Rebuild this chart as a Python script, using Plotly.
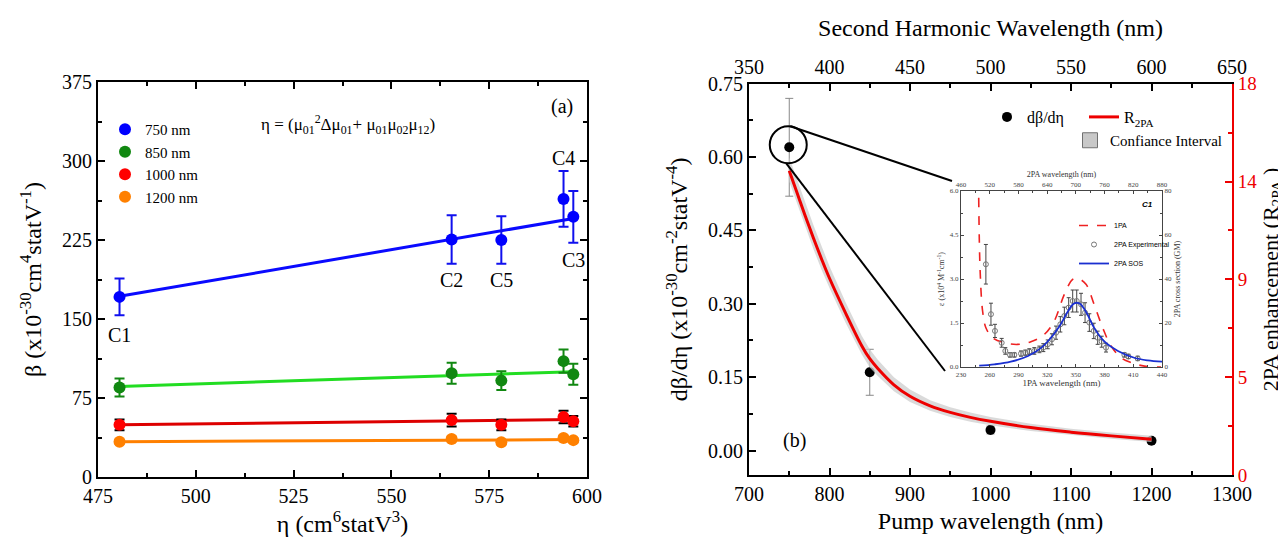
import plotly.graph_objects as go

W, H = 1286, 539
FONT = "Liberation Serif"

# ---------------- Panel (a) data ----------------
eta = [480.5, 565.4, 578.1, 594.0, 596.5]
cmpd = ["C1", "C2", "C5", "C4", "C3"]
b750 = [171, 225.5, 225, 264, 247]
e750 = [17.5, 23, 22.5, 26.5, 24.5]
b850 = [85, 98.5, 91.5, 110, 97.5]
e850 = [8.5, 10, 9, 11, 10]
b1000 = [49.5, 54, 49.5, 57, 53]
e1000 = [5, 6, 5, 6, 5]
b1200 = [33.5, 36, 33, 37, 35]
e1200 = [2, 2.5, 2, 2.5, 2]
fit_eta = [480.5, 596.5]
fit750 = [171.5, 245.5]
fit850 = [86.0, 100.0]
fit1000 = [49.5, 54.5]
fit1200 = [33.5, 35.5]
label_y = [135, 187, 187, 303, 206]

# ---------------- Panel (b) data ----------------
pump = [750, 850, 1000, 1200]
dbeta = [0.62, 0.16, 0.042, 0.020]
dbeta_err = [0.10, 0.047, 0.008, 0.005]
pump_c = [750, 760, 770, 780, 790, 800, 820, 840, 850, 860, 880, 900, 925, 950, 975, 1000, 1050, 1100, 1150, 1200]
r2pa = [14.0, 12.95, 11.9, 10.9, 9.95, 9.05, 7.45, 5.95, 5.35, 4.9, 4.15, 3.62, 3.18, 2.88, 2.65, 2.47, 2.18, 1.97, 1.8, 1.65]
ci_hi = [14.6, 13.55, 12.5, 11.5, 10.55, 9.6, 7.95, 6.4, 5.78, 5.3, 4.5, 3.93, 3.44, 3.12, 2.87, 2.67, 2.36, 2.13, 1.95, 1.8]
ci_lo = [13.5, 12.45, 11.4, 10.4, 9.45, 8.6, 7.0, 5.55, 4.95, 4.55, 3.85, 3.36, 2.95, 2.67, 2.45, 2.29, 2.02, 1.83, 1.67, 1.52]

# ---------------- Inset data ----------------
lam_1pa = [248.5, 250, 252.6, 256, 263, 275, 289, 303, 317, 327.5, 338, 346.7, 352, 360.6, 369, 378, 386.7, 397, 407.6, 421.6, 439]
eps_1pa = [5.77, 3.27, 1.9, 1.34, 1.0, 0.83, 0.77, 0.86, 1.11, 1.57, 2.48, 2.99, 3.02, 2.82, 2.14, 1.34, 0.72, 0.32, 0.15, 0.03, 0.0]
lam_sos = [249, 265, 282, 300, 314, 324, 333, 340, 347, 351, 355, 362, 369, 380, 394, 411, 425, 440]
gm_sos = [0.6, 1.2, 2.4, 5, 8.8, 13.3, 18.6, 24, 28.5, 29.2, 28.5, 24, 17.9, 11.5, 7.3, 4.2, 3.0, 2.4]
lam_exp = [256, 261.3, 265.5, 272.5, 276.3, 281.2, 285.7, 292.7, 297.2, 301.4, 306.6, 311.9, 316, 320.6, 325,
           329.3, 333.8, 338, 342.5, 346.7, 350.9, 355.4, 359.6, 364.1, 368.7, 372.8, 377, 381.5, 400.7, 404.9, 414.6]
gm_exp = [46.7, 24, 16.4, 11, 7.3, 5.5, 5.5, 6.1, 6.5, 7, 7.3, 8, 8.8, 10.3, 12.6, 15.6, 19.4, 23.2, 27, 30, 30,
          28.5, 24.7, 20.2, 16.4, 13.3, 11.5, 8.8, 5.5, 4.8, 3.9]
gm_err = [9, 5, 3, 2, 1.5, 1, 1, 1.2, 1.2, 1.3, 1.5, 1.5, 1.8, 2, 2.5, 3, 3.5, 4, 4.5, 5, 5, 5, 4.5, 4, 3.5, 3,
          2.5, 2, 1, 1, 1]

# ---------------- layout geometry (pixels -> paper) ----------------
def px(x):
    return x / W

def py(y):
    return 1 - y / H

A_X = [px(90), px(579)]
A_Y = [py(469), py(74)]
B_X = [px(741), px(1224)]
B_Y = [py(467), py(75.7)]
I_X = [px(953), px(1154)]
I_Y = [py(359), py(183)]

B_XR = [700, 1300]
B_YR = [-0.05, 0.75]

fig = go.Figure()

# ---- Panel (a) traces ----
series = [
    ("750 nm", b750, e750, fit750, "#0000ff", "#1010ee", "#0a0aff"),
    ("850 nm", b850, e850, fit850, "#118811", "#118811", "#22dd22"),
    ("1000 nm", b1000, e1000, fit1000, "#ff0000", "#000000", "#dd0000"),
    ("1200 nm", b1200, e1200, fit1200, "#ff8000", "#ff8000", "#ff8000"),
]
for name, yv, ev, fv, mc, ec, lc in series:
    fig.add_trace(go.Scatter(x=fit_eta, y=fv, mode="lines", line=dict(color=lc, width=3),
                             showlegend=False, hoverinfo="skip", xaxis="x", yaxis="y"))
for name, yv, ev, fv, mc, ec, lc in series:
    fig.add_trace(go.Scatter(x=eta, y=yv, mode="markers", name=name,
                             marker=dict(color=mc, size=12),
                             error_y=dict(type="data", array=ev, color=ec, thickness=2, width=5),
                             legend="legend", xaxis="x", yaxis="y"))

# ---- Panel (b) traces ----
fig.add_trace(go.Scatter(x=pump_c, y=ci_lo, mode="lines", line=dict(width=0, color="rgba(190,190,190,0.7)"),
                         showlegend=False, hoverinfo="skip", xaxis="x2", yaxis="y3"))
fig.add_trace(go.Scatter(x=pump_c, y=ci_hi, mode="lines", line=dict(width=0, color="rgba(190,190,190,0.7)"),
                         fill="tonexty", fillcolor="rgba(205,205,205,0.75)", showlegend=False,
                         hoverinfo="skip", xaxis="x2", yaxis="y3"))
fig.add_trace(go.Scatter(x=pump, y=dbeta, mode="markers", name="dβ/dη",
                         marker=dict(color="black", size=10),
                         error_y=dict(type="data", array=dbeta_err, color="#888888", thickness=1, width=4),
                         legend="legend2", xaxis="x2", yaxis="y2"))
fig.add_trace(go.Scatter(x=pump_c, y=r2pa, mode="lines", name="R<sub>2PA</sub>",
                         line=dict(color="#ee0000", width=3, shape="spline"),
                         legend="legend2", xaxis="x2", yaxis="y3"))
# legend swatch for the confidence band
fig.add_trace(go.Scatter(x=[None], y=[None], mode="markers", name="Confiance Interval",
                         marker=dict(symbol="square", size=15, color="#c8c8c8",
                                     line=dict(color="#707070", width=1)),
                         legend="legend3", xaxis="x2", yaxis="y3"))
# second-harmonic (top) axis carrier
fig.add_trace(go.Scatter(x=[p / 2 for p in pump], y=dbeta, mode="markers", marker=dict(opacity=0),
                         showlegend=False, hoverinfo="skip", xaxis="x3", yaxis="y2"))

# ---- Inset traces ----
fig.add_trace(go.Scatter(x=lam_1pa, y=eps_1pa, mode="lines", name="1PA",
                         line=dict(color="#ee2222", width=1.6, dash="dash", shape="spline"),
                         legend="legend4", xaxis="x4", yaxis="y4"))
fig.add_trace(go.Scatter(x=lam_exp, y=gm_exp, mode="markers", name="2PA Experimental",
                         marker=dict(symbol="circle-open", color="#777777", size=5, line=dict(width=1)),
                         error_y=dict(type="data", array=gm_err, color="#444444", thickness=1, width=2),
                         legend="legend4", xaxis="x4", yaxis="y5"))
fig.add_trace(go.Scatter(x=lam_sos, y=gm_sos, mode="lines", name="2PA SOS",
                         line=dict(color="#1a2fd0", width=1.8, shape="spline"),
                         legend="legend4", xaxis="x4", yaxis="y5"))
fig.add_trace(go.Scatter(x=[2 * l for l in lam_sos], y=gm_sos, mode="markers", marker=dict(opacity=0),
                         showlegend=False, hoverinfo="skip", xaxis="x5", yaxis="y4"))

# ---------------- axes ----------------
def ax(**kw):
    base = dict(showgrid=False, zeroline=False, showline=True, linecolor="black", linewidth=2,
                ticks="inside", ticklen=7, tickwidth=2, tickcolor="black", automargin=False,
                tickfont=dict(family=FONT, size=20, color="black"),
                title_font=dict(family=FONT, size=24, color="black"))
    base.update(kw)
    return base

inset_tick = dict(linewidth=1.2, linecolor="#444444", tickcolor="#444444", ticklen=3, tickwidth=1,
                  tickfont=dict(family=FONT, size=7, color="#444444"))

fig.update_layout(
    xaxis=ax(domain=A_X, anchor="y", range=[475, 600], tick0=475, dtick=25, mirror="ticks",
             minor=dict(ticks="inside", ticklen=4, dtick=12.5, tick0=475, tickcolor="black", tickwidth=2),
             title=dict(text="η (cm<sup>6</sup>statV<sup>3</sup>)", standoff=8)),
    yaxis=ax(domain=A_Y, anchor="x", range=[0, 375], tick0=0, dtick=75, mirror="ticks",
             minor=dict(ticks="inside", ticklen=4, dtick=37.5, tick0=0, tickcolor="black", tickwidth=2),
             title=dict(text="β (x10<sup>-30</sup>cm<sup>4</sup>statV<sup>-1</sup>)", standoff=14)),
    xaxis2=ax(domain=B_X, anchor="y2", range=B_XR, tick0=700, dtick=100,
              minor=dict(ticks="inside", ticklen=4, dtick=50, tick0=700, tickcolor="black", tickwidth=2),
              title=dict(text="Pump wavelength (nm)", standoff=8)),
    xaxis3=ax(overlaying="x2", anchor="y2", side="top", range=[350, 650], tick0=350, dtick=50,
              minor=dict(ticks="inside", ticklen=4, dtick=25, tick0=350, tickcolor="black", tickwidth=2),
              title=dict(text="Second Harmonic Wavelength (nm)", standoff=12)),
    yaxis2=ax(domain=B_Y, anchor="x2", range=B_YR, tickvals=[0, 0.15, 0.30, 0.45, 0.60, 0.75],
              tickformat=".2f",
              minor=dict(ticks="inside", ticklen=4, tickvals=[0.075, 0.225, 0.375, 0.525, 0.675],
                         tickcolor="black", tickwidth=2),
              title=dict(text="dβ/dη (x10<sup>-30</sup>cm<sup>-2</sup>statV<sup>-4</sup>)", standoff=14)),
    yaxis3=ax(overlaying="y2", anchor="x2", side="right", range=[0, 18],
              tickvals=[0, 4.5, 9, 13.5, 18], ticktext=["0", "5", "9", "14", "18"],
              linecolor="#ee0000", tickcolor="#ee0000",
              tickfont=dict(family=FONT, size=19, color="#ee0000"),
              minor=dict(ticks="inside", ticklen=4, tickvals=[2.25, 6.75, 11.25, 15.75],
                         tickcolor="#ee0000", tickwidth=2)),
    xaxis4=ax(domain=I_X, anchor="y4", range=[230, 440], tick0=230, dtick=30, **inset_tick,
              minor=dict(ticks="inside", ticklen=2, dtick=15, tick0=230, tickcolor="#444444"),
              title=dict(text="1PA wavelength (nm)", standoff=2, font=dict(family=FONT, size=9, color="#333333"))),
    xaxis5=ax(overlaying="x4", anchor="y4", side="top", range=[460, 880], tick0=460, dtick=60, **inset_tick,
              minor=dict(ticks="inside", ticklen=2, dtick=30, tick0=460, tickcolor="#444444"),
              title=dict(text="2PA wavelength (nm)", standoff=2, font=dict(family=FONT, size=8, color="#333333"))),
    yaxis4=ax(domain=I_Y, anchor="x4", range=[0, 6], tick0=0, dtick=1.5, tickformat=".1f", **inset_tick,
              minor=dict(ticks="inside", ticklen=2, dtick=0.75, tick0=0, tickcolor="#444444"),
              title=dict(text="ε (x10<sup>4</sup> M<sup>-1</sup>cm<sup>-1</sup>)", standoff=3,
                         font=dict(family=FONT, size=8, color="#333333"))),
    yaxis5=ax(overlaying="y4", anchor="x4", side="right", range=[0, 80], tick0=0, dtick=20, **inset_tick,
              minor=dict(ticks="inside", ticklen=2, dtick=10, tick0=0, tickcolor="#444444"),
              title=dict(text="2PA cross section (GM)", standoff=3,
                         font=dict(family=FONT, size=8, color="#333333"))),
)

# ---------------- legends ----------------
fig.update_layout(
    legend=dict(x=px(97), y=py(105), xanchor="left", yanchor="top", bgcolor="rgba(0,0,0,0)",
                font=dict(family=FONT, size=15, color="black"), tracegroupgap=0, itemwidth=30,
                itemsizing="constant", traceorder="normal"),
    legend2=dict(x=px(979), y=py(92), xanchor="left", yanchor="top", orientation="h",
                 entrywidth=52, entrywidthmode="pixels", bgcolor="rgba(0,0,0,0)", traceorder="normal",
                 font=dict(family=FONT, size=16, color="black")),
    legend3=dict(x=px(1062), y=py(116), xanchor="left", yanchor="top", bgcolor="rgba(0,0,0,0)",
                 traceorder="normal", font=dict(family=FONT, size=15, color="black")),
    legend4=dict(x=px(1066), y=py(203), xanchor="left", yanchor="top", bgcolor="rgba(0,0,0,0)",
                 font=dict(family="Liberation Sans", size=7, color="black"), tracegroupgap=0, itemwidth=30,
                 traceorder="normal"),
)

# ---------------- annotations ----------------
ann = []
for xv, yv, t in zip(eta, label_y, cmpd):
    ann.append(dict(x=xv, y=yv, xref="x", yref="y", text=t, showarrow=False,
                    font=dict(family=FONT, size=20, color="black")))
ann.append(dict(x=593.5, y=352, xref="x", yref="y", text="(a)", showarrow=False,
                font=dict(family=FONT, size=20, color="black")))
ann.append(dict(x=539, y=334.5, xref="x", yref="y",
                text="η = (μ<sub>01</sub><sup>2</sup>Δμ<sub>01</sub>+ μ<sub>01</sub>μ<sub>02</sub>μ<sub>12</sub>)",
                showarrow=False, font=dict(family=FONT, size=17, color="black")))
ann.append(dict(x=757, y=0.02, xref="x2", yref="y2", text="(b)", showarrow=False,
                font=dict(family=FONT, size=20, color="black")))
ann.append(dict(x=425, y=5.55, xref="x4", yref="y4", text="<b><i>C1</i></b>", showarrow=False,
                font=dict(family="Liberation Sans", size=8, color="black")))
# right-hand axis title (R2PA axis)
ann.append(dict(x=px(1264), y=(B_Y[0] + B_Y[1]) / 2, xref="paper", yref="paper",
                text="2PA enhancement (R<sub>2PA</sub> )", textangle=-90, showarrow=False,
                xanchor="center", yanchor="middle", font=dict(family=FONT, size=22, color="black")))
fig.update_layout(annotations=ann)

# ---------------- highlight circle + connector lines ----------------
def bx(v):
    return B_X[0] + (v - B_XR[0]) / (B_XR[1] - B_XR[0]) * (B_X[1] - B_X[0])

def by(v):
    return B_Y[0] + (v - B_YR[0]) / (B_YR[1] - B_YR[0]) * (B_Y[1] - B_Y[0])

cx, cy = bx(pump[0]) - px(1), by(dbeta[0]) + 2.5 / H
rx, ry = px(18.5), 18.5 / H
shapes = [
    dict(type="circle", xref="paper", yref="paper", x0=cx - rx, x1=cx + rx, y0=cy - ry, y1=cy + ry,
         line=dict(color="black", width=2)),
    dict(type="line", xref="paper", yref="paper", x0=cx + px(2), y0=cy + ry, x1=I_X[0] - px(9), y1=I_Y[1] + 10 / H,
         line=dict(color="black", width=2)),
    dict(type="line", xref="paper", yref="paper", x0=cx - px(2), y0=cy - ry, x1=I_X[0] - px(16), y1=I_Y[0] - 4 / H,
         line=dict(color="black", width=2)),
]
fig.update_layout(shapes=shapes)

fig.update_layout(width=W, height=H, margin=dict(l=0, r=0, t=0, b=0),
                  paper_bgcolor="white", plot_bgcolor="rgba(0,0,0,0)",
                  font=dict(family=FONT, color="black"))

fig.write_html("out.html")
